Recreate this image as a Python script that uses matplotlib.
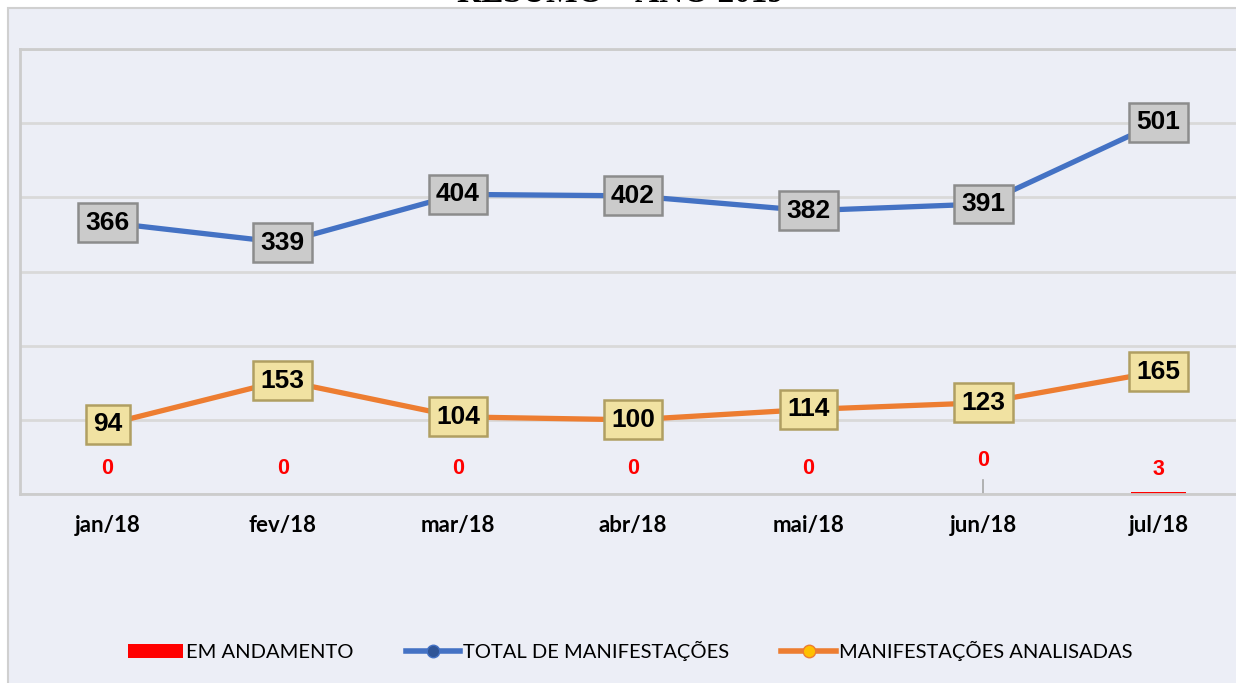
import matplotlib
matplotlib.use("Agg")
import matplotlib.pyplot as plt
from matplotlib.patches import Rectangle
from matplotlib.lines import Line2D
from matplotlib.patches import Patch

months = ["jan/18", "fev/18", "mar/18", "abr/18", "mai/18", "jun/18", "jul/18"]
total = [366, 339, 404, 402, 382, 391, 501]
analisadas = [94, 153, 104, 100, 114, 123, 165]
em_andamento = [0, 0, 0, 0, 0, 0, 3]

bg = "#eceef6"
fig = plt.figure(figsize=(12.36, 6.83), dpi=100, facecolor="white")

# chart area background + border
frame = Rectangle((8 / 1236, -0.01), 1.0, 1 - 8 / 683 + 0.01,
                  transform=fig.transFigure, facecolor=bg,
                  edgecolor="#d0d0d0", linewidth=1.5, zorder=-10)
fig.add_artist(frame)

fig.text(0.502, 1 - 2 / 683, "RESUMO – ANO 2019", ha="center", va="baseline",
         fontsize=24, fontweight="bold", family="Liberation Serif")

ax = fig.add_axes([20 / 1236, 189 / 683, 1226 / 1236, 445 / 683])
ax.set_facecolor(bg)
x = list(range(len(months)))

ax.bar(x, em_andamento, width=0.31, color="#ff0000", zorder=2)
ax.plot(x, total, color="#4472c4", linewidth=3.8, zorder=3, solid_capstyle="round")
ax.plot(x, analisadas, color="#ed7d31", linewidth=3.8, zorder=3, solid_capstyle="round")

ax.set_xlim(-0.5, 6.5)
ax.set_ylim(0, 600)
ax.set_yticks(range(0, 601, 100))
ax.set_yticklabels([])
ax.grid(axis="y", color="#d9d9d9", linewidth=2)
ax.set_axisbelow(True)
ax.tick_params(axis="y", length=0)
ax.tick_params(axis="x", length=0, pad=15)
ax.set_xticks(x)
ax.set_xticklabels(months, fontsize=16, fontweight="bold", family="Lato")
for s in ["left", "top", "bottom"]:
    ax.spines[s].set_color("#cccccc")
    ax.spines[s].set_linewidth(2)
ax.spines["right"].set_visible(False)

# value labels
for xi, v in zip(x, total):
    ax.text(xi, v, str(v), ha="center", va="center", fontsize=19, fontweight="bold",
            family="Liberation Sans", zorder=5,
            bbox=dict(boxstyle="square,pad=0.28", facecolor="#cbcbcb",
                      edgecolor="#8c8c8c", linewidth=1.8))
for xi, v in zip(x, analisadas):
    ax.text(xi, v, str(v), ha="center", va="center", fontsize=19, fontweight="bold",
            family="Liberation Sans", zorder=5,
            bbox=dict(boxstyle="square,pad=0.28", facecolor="#f1e2a2",
                      edgecolor="#b09f62", linewidth=1.8))
for xi, v in zip(x, em_andamento):
    off = 26
    if xi == 5:
        off = 34
        ax.plot([xi, xi], [2, 19], color="#a6a6a6", linewidth=1.2, zorder=2)
    if xi == 6:
        off = 22
    ax.annotate(str(v), (xi, v), xytext=(0, off * 0.72), textcoords="offset points",
                ha="center", va="center", color="#ff0000", fontsize=15.5,
                fontweight="bold", family="Liberation Sans")

handles = [
    Patch(facecolor="#ff0000", edgecolor="none"),
    Line2D([0], [0], color="#4472c4", linewidth=4, marker="o", markersize=9,
           markerfacecolor="#2f5597", markeredgecolor="#4472c4"),
    Line2D([0], [0], color="#ed7d31", linewidth=4, marker="o", markersize=9,
           markerfacecolor="#ffc000", markeredgecolor="#ed7d31"),
]
labels = ["EM ANDAMENTO", "TOTAL DE MANIFESTAÇÕES", "MANIFESTAÇÕES ANALISADAS"]
fig.legend(handles, labels, loc="center", bbox_to_anchor=(0.51, 1 - 651 / 683),
           ncol=3, frameon=False, prop={"family": "Lato", "size": 14.5},
           handlelength=2.7, handletextpad=0.15, columnspacing=2.6)

fig.savefig("out.png", dpi=100, facecolor="white")
